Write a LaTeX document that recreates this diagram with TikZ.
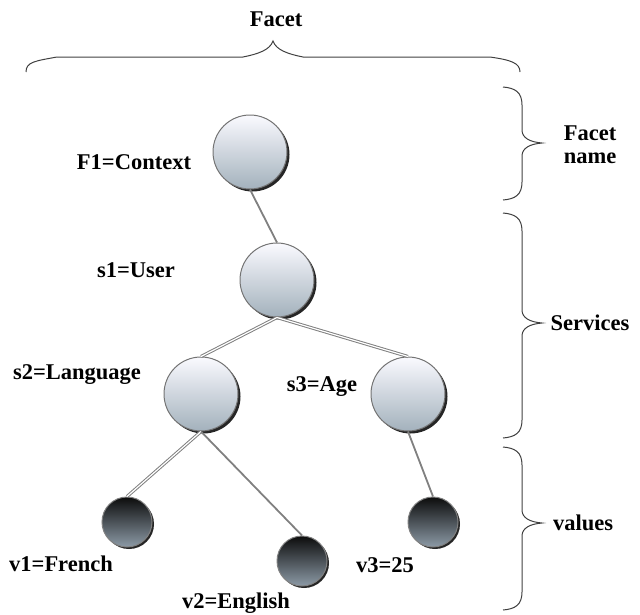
\documentclass[tikz,border=0pt]{standalone}
\usepackage{fontspec}
\setmainfont{Liberation Serif}
\usetikzlibrary{shadows}
\newcommand\vbrace[3]{%
  \draw[bracestyle] (503,#1) .. controls (515,{#1+1}) and (522,{#1+5}) .. (522,{#1+18})
    -- (522,{#2-13}) .. controls (522,{#2-5}) and (530,{#2-1}) .. (542,#2)
    .. controls (530,{#2+1}) and (522,{#2+5}) .. (522,{#2+13})
    -- (522,{#3-18}) .. controls (522,{#3-5}) and (515,{#3-1}) .. (503,#3);}
\begin{document}
\begin{tikzpicture}[x=1pt,y=-1pt,
  lbl/.style={font=\fontsize{22.5}{25}\selectfont\bfseries, inner sep=0pt, align=center},
  svc/.style={circle, minimum size=74pt, inner sep=0pt, draw=black!55, line width=1pt,
    top color=black!4!blue!2!white, bottom color={rgb,255:red,163;green,177;blue,188},
    drop shadow={shadow xshift=2.5pt, shadow yshift=-2.5pt, fill=black!85, opacity=1}},
  val/.style={circle, minimum size=50pt, inner sep=0pt, draw=black!50, line width=1pt,
    top color={rgb,255:red,12;green,12;blue,12}, bottom color={rgb,255:red,140;green,154;blue,166},
    drop shadow={shadow xshift=2pt, shadow yshift=-2pt, fill=black!85, opacity=1}},
  single/.style={draw=black!50, line width=1.8pt},
  dbl/.style={draw=black!50, line width=1pt, double=white, double distance=1.2pt},
  bracestyle/.style={draw=black!75, line width=1pt}]
\useasboundingbox (0,0) rectangle (640,614);

% braces
\draw[bracestyle] (26,72) .. controls (26,62) and (35,61) .. (57,57) -- (243,57)
  .. controls (258,54) and (270,50) .. (273,41) .. controls (276,50) and (288,54) .. (303,57)
  -- (490,57) .. controls (511,60) and (520,63) .. (520,72);
\vbrace{87}{143}{200}
\vbrace{213}{323}{438}
\vbrace{447}{523}{610}

% nodes
\node[svc] (f1) at (250,152) {};
\node[svc] (s1) at (277,280) {};
\node[svc] (s2) at (201,394) {};
\node[svc] (s3) at (408,394) {};
\node[val] (v1) at (127,522) {};
\node[val] (v2) at (302,561) {};
\node[val] (v3) at (433,522) {};

% connectors
\draw[single] (f1.south) -- (s1.north);
\draw[dbl] (s1.south) -- (s2.north);
\draw[dbl] (s1.south) -- (s3.north);
\draw[dbl] (s2.south) -- (v1.north);
\draw[single] (s2.south) -- (v2.north);
\draw[single] (s3.south) -- (v3.north);

% labels
\node[lbl] (tfacet) at (276,19) {Facet};
\node[lbl] (lf1) at (134,162) {F1=Context};
\node[lbl] (ls1) at (136,270) {s1=User};
\node[lbl] (ls2) at (77,375) {s2=Language};
\node[lbl] (ls3) at (322,387) {s3=Age};
\node[lbl] (lv1) at (61,564) {v1=French};
\node[lbl] (lv2) at (236,603) {v2=English};
\node[lbl] (lv3) at (385,565) {v3=25};
\node[lbl] (tname) at (590,145) {Facet\\[-2pt]name};
\node[lbl] (tserv) at (590,323) {Services};
\node[lbl] (tval) at (583,523) {values};
\end{tikzpicture}
\end{document}
